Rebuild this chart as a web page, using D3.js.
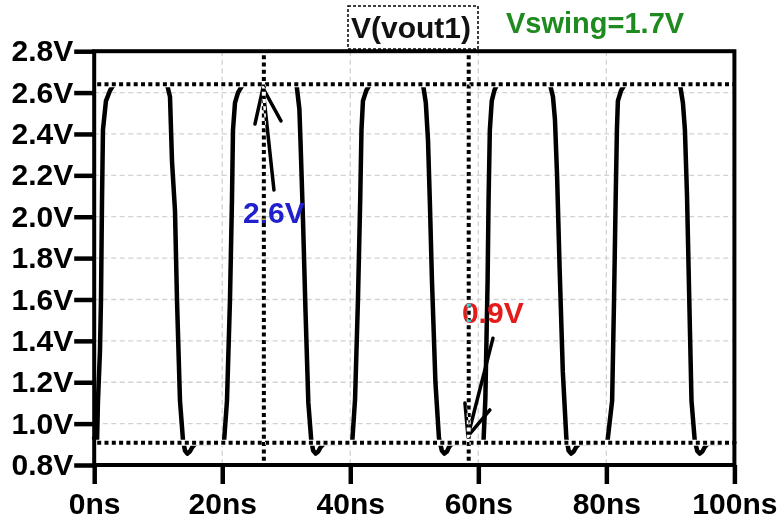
<!DOCTYPE html>
<html>
<head>
<meta charset="utf-8">
<script src="https://cdn.jsdelivr.net/npm/d3@7"></script>
<style>
  html, body { margin: 0; padding: 0; background: #fff; }
  svg { display: block; }
  text { font-family: "Liberation Sans", Arial, sans-serif; font-weight: bold; }
</style>
</head>
<body>
<svg id="chart" width="779" height="525"></svg>
<script>
// Axis tick values
const timeTicks = [0, 20, 40, 60, 80, 100];                       // ns
const voltTicks = [0.8, 1.0, 1.2, 1.4, 1.6, 1.8, 2.0, 2.2, 2.4, 2.6, 2.8]; // V

// Transient output V(vout1): [time ns, volts]
const vout1 = [
  [0.0, 0.93], [0.44, 0.91], [0.59, 1.11], [0.90, 1.35], [1.06, 1.60], [1.22, 2.08], [1.37, 2.42],
  [1.84, 2.56], [2.47, 2.61], [3.09, 2.64],
  [11.37, 2.64], [11.84, 2.58], [12.15, 2.27], [12.62, 2.03], [12.93, 1.60], [13.40, 1.11],
  [13.87, 0.92], [14.18, 0.87], [14.55, 0.855], [14.95, 0.865], [15.35, 0.888], [15.90, 0.905],
  [20.27, 0.908], [20.74, 1.11], [21.21, 1.60], [21.52, 2.08], [21.68, 2.42], [21.99, 2.55],
  [22.46, 2.60], [23.24, 2.64],
  [31.60, 2.64], [32.05, 2.52], [32.22, 2.37], [32.60, 2.00], [33.00, 1.55], [33.45, 1.10],
  [33.90, 0.92], [34.20, 0.87], [34.60, 0.855], [35.00, 0.865], [35.40, 0.888], [35.95, 0.905],
  [40.30, 0.908], [40.75, 1.12], [41.20, 1.60], [41.55, 2.08], [41.75, 2.42], [41.98, 2.56],
  [42.50, 2.61], [43.07, 2.64],
  [51.36, 2.64], [51.80, 2.55], [52.14, 2.37], [52.45, 2.05], [52.76, 1.69], [53.30, 1.20],
  [53.85, 0.93], [54.30, 0.87], [54.70, 0.855], [55.10, 0.865], [55.45, 0.888], [55.90, 0.905],
  [60.80, 0.908], [61.10, 1.12], [61.45, 1.69], [61.60, 2.08], [61.80, 2.42], [62.10, 2.56],
  [62.50, 2.61], [62.95, 2.64],
  [71.19, 2.64], [71.66, 2.58], [71.97, 2.47], [72.30, 2.20], [72.70, 1.75], [73.20, 1.25],
  [73.75, 0.93], [74.10, 0.87], [74.50, 0.855], [74.90, 0.865], [75.30, 0.888], [75.85, 0.905],
  [80.15, 0.908], [80.90, 1.11], [81.20, 1.60], [81.45, 2.08], [81.65, 2.42], [81.80, 2.56],
  [82.30, 2.61], [82.90, 2.64],
  [91.50, 2.64], [91.96, 2.55], [92.27, 2.42], [92.60, 2.10], [92.95, 1.60], [93.30, 1.11],
  [93.80, 0.92], [94.20, 0.868], [94.60, 0.855], [95.00, 0.865], [95.40, 0.888], [95.90, 0.905],
  [100.0, 0.908]
];

// Cursors: horizontal (volts) and vertical (ns)
const cursorVolts = [2.64, 0.908];
const cursorTimes = [26.5, 58.5];

// Annotation anchors [time ns, volts]
const highLabelAt = [23.24, 1.97];
const lowLabelAt = [57.44, 1.486];
const highArrow = [[28.08, 2.129], [26.36, 2.622]];
const highArrowBarbs = [[25.11, 2.448], [26.36, 2.622], [29.17, 2.463]];
const lowArrow = [[62.29, 1.413], [58.38, 0.940]];
const lowArrowBarbs = [[57.91, 1.100], [58.38, 0.940], [61.81, 1.066]];

const svg = d3.select("#chart");
svg.append("rect").attr("width", 779).attr("height", 525).attr("fill", "#fff");

const x = d3.scaleLinear().domain([0, 100]).range([94.2, 734.4]);
const y = d3.scaleLinear().domain([0.8, 2.8]).range([465, 51.2]);
const fmtV = v => d3.format(".1f")(v) + "V";

// Grid
svg.append("g").selectAll("line").data(voltTicks.slice(1, -1)).join("line")
  .attr("x1", x(0)).attr("x2", x(100))
  .attr("y1", d => y(d)).attr("y2", d => y(d))
  .attr("stroke", "#d2d2d2").attr("stroke-width", 1.3).attr("stroke-dasharray", "5,3.5");
svg.append("g").selectAll("line").data(timeTicks.slice(1, -1)).join("line")
  .attr("y1", y(2.8)).attr("y2", y(0.8))
  .attr("x1", d => x(d)).attr("x2", d => x(d))
  .attr("stroke", "#d2d2d2").attr("stroke-width", 1.3).attr("stroke-dasharray", "5,3.5");

// Waveform
const line = d3.line().x(d => x(d[0])).y(d => y(d[1]));
svg.append("path").datum(vout1).attr("d", line)
  .attr("fill", "none").attr("stroke", "#000").attr("stroke-width", 4.5)
  .attr("stroke-linejoin", "round").attr("stroke-linecap", "round");

// Horizontal cursors
const hc = svg.append("g");
hc.selectAll("line.bg").data(cursorVolts).join("line").attr("class", "bg")
  .attr("x1", x(0)).attr("x2", x(100))
  .attr("y1", d => y(d)).attr("y2", d => y(d))
  .attr("stroke", "#fff").attr("stroke-width", 6);
hc.selectAll("line.fg").data(cursorVolts).join("line").attr("class", "fg")
  .attr("x1", x(0) + 3).attr("x2", x(100))
  .attr("y1", d => y(d)).attr("y2", d => y(d))
  .attr("stroke", "#000").attr("stroke-width", 4).attr("stroke-dasharray", "4,3.3");

// Frame
svg.append("rect")
  .attr("x", x(0)).attr("y", y(2.8))
  .attr("width", x(100) - x(0)).attr("height", y(0.8) - y(2.8))
  .attr("fill", "none").attr("stroke", "#000").attr("stroke-width", 4);

// Axes
const yAxis = svg.append("g").attr("transform", `translate(${x(0)},0)`)
  .call(d3.axisLeft(y).tickValues(voltTicks).tickSize(20).tickPadding(1).tickFormat(fmtV));
const xAxis = svg.append("g").attr("transform", `translate(0,${y(0.8)})`)
  .call(d3.axisBottom(x).tickValues(timeTicks).tickSize(19).tickPadding(9).tickFormat(t => t + "ns"));
[yAxis, xAxis].forEach(a => {
  a.select(".domain").remove();
  a.selectAll(".tick line").attr("stroke", "#000").attr("stroke-width", 4.5);
  a.selectAll(".tick text").attr("fill", "#000").style("font-size", "30px")
    .style("font-family", "'Liberation Sans', Arial, sans-serif").style("font-weight", "bold");
});

// Title box and swing note
svg.append("rect").attr("x", 348).attr("y", 6).attr("width", 130).attr("height", 43)
  .attr("fill", "none").attr("stroke", "#000").attr("stroke-width", 1.5).attr("stroke-dasharray", "3,2");
svg.append("text").attr("x", 411).attr("y", 38).attr("text-anchor", "middle")
  .style("font-size", "30px").attr("fill", "#111").text("V(vout1)");
svg.append("text").attr("x", 506).attr("y", 33)
  .style("font-size", "29px").attr("fill", "#1f8a1f")
  .text("Vswing=" + fmtV(cursorVolts[0] - cursorVolts[1]));

// Cursor value labels with arrows
svg.append("text").attr("x", x(highLabelAt[0])).attr("y", y(highLabelAt[1]))
  .style("font-size", "30px").attr("fill", "#2020cc").text(fmtV(cursorVolts[0]));
svg.append("text").attr("x", x(lowLabelAt[0])).attr("y", y(lowLabelAt[1]))
  .style("font-size", "30px").attr("fill", "#e41b1b").text(fmtV(cursorVolts[1]));

const arrowLine = d3.line().x(d => x(d[0])).y(d => y(d[1]));
[highArrow, highArrowBarbs, lowArrow, lowArrowBarbs].forEach(p => {
  svg.append("path").datum(p).attr("d", arrowLine)
    .attr("fill", "none").attr("stroke", "#000").attr("stroke-width", 3.5)
    .attr("stroke-linejoin", "round").attr("stroke-linecap", "round");
});

// Vertical cursors (inverting draw)
svg.append("g").style("mix-blend-mode", "difference")
  .selectAll("line").data(cursorTimes).join("line")
  .attr("x1", d => x(d)).attr("x2", d => x(d))
  .attr("y1", y(2.8) + 4).attr("y2", y(0.8) - 2)
  .attr("stroke", "#fff").attr("stroke-width", 4).attr("stroke-dasharray", "4,3.3")
  .style("mix-blend-mode", "difference");
</script>
</body>
</html>
